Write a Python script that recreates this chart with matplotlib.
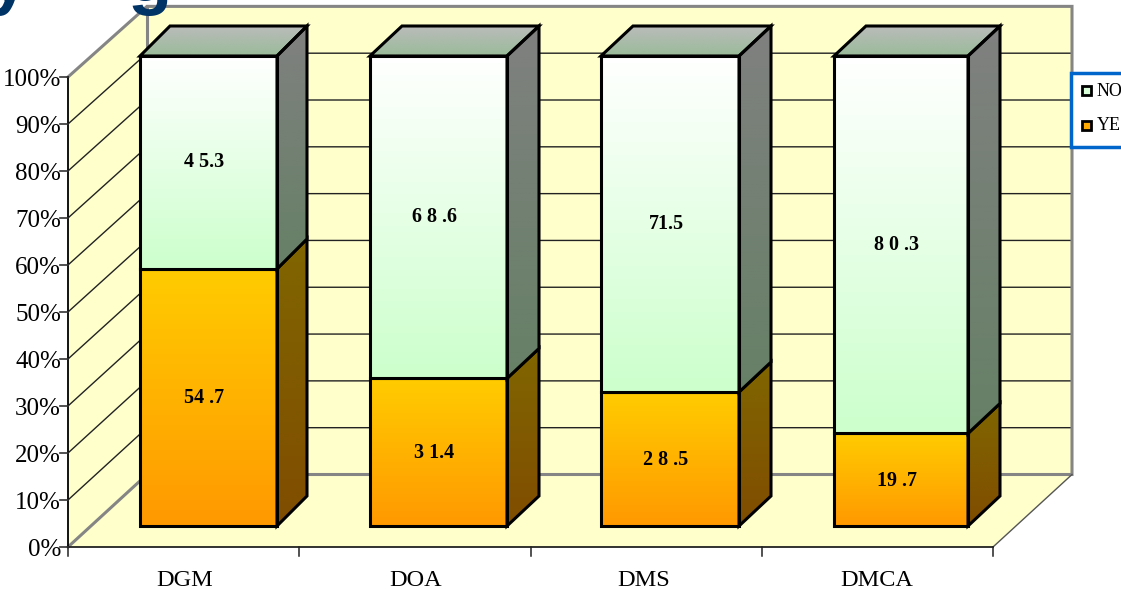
import matplotlib
matplotlib.use('Agg')
import numpy as np
import matplotlib.pyplot as plt
from matplotlib.patches import Polygon, Rectangle

categories = ['DGM', 'DOA', 'DMS', 'DMCA']
yes_values = [54.7, 31.4, 28.5, 19.7]
no_values = [45.3, 68.6, 71.5, 80.3]
yes_labels = ['54 .7', '3 1.4', '2 8 .5', '19 .7']
no_labels = ['4 5.3', '6 8 .6', '71.5', '8 0 .3']
pct_ticks = [0, 10, 20, 30, 40, 50, 60, 70, 80, 90, 100]

W, H = 1121, 590
# one x unit is a category, one y unit is a percentage point
X0, Y0 = 68, 547
XU, YU = 231.25, 4.7
DEPTH_X, DEPTH_Y = 79 / XU, 72.5 / YU
WALL_SCALE = 0.996
BAR_LIFT = 21 / YU
SIDE_Y = 30 / YU

plt.rcParams['font.family'] = ['Liberation Serif', 'DejaVu Serif']

# bar edges in pixels: left, right of the front face, right of the side face
bar_left_px = [140, 370, 601, 834]
bar_right_px = [277, 507, 739, 968]
bar_side_px = [307, 539, 771, 1000]
cat_center_px = [185, 416, 644, 877]

fig = plt.figure(figsize=(W / 100, H / 100), dpi=100)
ax = fig.add_axes([0, 0, 1, 1])
ax.set_xlim(-X0 / XU, (W - X0) / XU)
ax.set_ylim(-(H - Y0) / YU, Y0 / YU)
ax.axis('off')


def px_x(p):
    return (p - X0) / XU


def px_y(p):
    return (Y0 - p) / YU


def back(p):
    return DEPTH_Y + p * WALL_SCALE


def gradient_poly(points, top_color, bottom_color, z):
    # vertical gradient clipped to a polygon, then outlined in black
    points = np.array(points)
    c1 = np.array(matplotlib.colors.to_rgb(top_color))
    c2 = np.array(matplotlib.colors.to_rgb(bottom_color))
    t = np.linspace(0, 1, 128)[:, None, None]
    img = c1[None, None, :] * (1 - t) + c2[None, None, :] * t
    extent = [points[:, 0].min(), points[:, 0].max(), points[:, 1].min(), points[:, 1].max()]
    im = ax.imshow(img, extent=extent, origin='upper', aspect='auto', zorder=z, interpolation='bilinear')
    outline = Polygon(points, closed=True, fill=False, ec='black', lw=2.2, joinstyle='miter', zorder=z + 0.1)
    ax.add_patch(outline)
    im.set_clip_path(outline)


def draw_box(x, x2, x3, base, top, front, side, roof, z):
    dx = x3 - x2
    gradient_poly([(x, base), (x2, base), (x2, top), (x, top)], front[0], front[1], z)
    gradient_poly([(x2, base), (x3, base + SIDE_Y), (x3, top + SIDE_Y), (x2, top)], side[0], side[1], z)
    if roof:
        gradient_poly([(x, top), (x2, top), (x3, top + SIDE_Y), (x + dx, top + SIDE_Y)], roof[0], roof[1], z)


# walls and floor
n = len(categories)
wall = '#FFFFCC'
edge = '#858585'
ax.add_patch(Polygon([(0, 0), (DEPTH_X, back(0)), (DEPTH_X, back(100)), (0, 100)], fc=wall, ec='none', zorder=1))
ax.add_patch(Rectangle((DEPTH_X, back(0)), n, back(100) - back(0), fc=wall, ec='none', zorder=1))
ax.add_patch(Polygon([(0, 0), (n, 0), (n + DEPTH_X, back(0)), (DEPTH_X, back(0))], fc=wall, ec='none', zorder=1))

for p in pct_ticks[1:-1]:
    ax.plot([0, DEPTH_X, n + DEPTH_X], [p, back(p), back(p)], color='#222222', lw=1, zorder=2)

ax.plot([0, DEPTH_X, n + DEPTH_X, n + DEPTH_X, DEPTH_X, 0],
        [100, back(100), back(100), back(0), back(0), 0],
        color=edge, lw=2.2, zorder=2, solid_joinstyle='miter')
ax.plot([DEPTH_X, DEPTH_X], [back(0), back(100)], color=edge, lw=2.2, zorder=2)
ax.plot([n, n + DEPTH_X], [0, back(0)], color='#555555', lw=1, zorder=2)

# axes lines and ticks
ax.plot([0, 0], [0, 100], color='black', lw=1.3, zorder=3)
ax.plot([0, n], [0, 0], color='#222222', lw=1.3, zorder=3)
for p in pct_ticks:
    ax.plot([-8 / XU, 0], [p, p], color='#333333', lw=1.2, zorder=3)
    ax.text(-7 / XU, p - 0.6, f'{p}%', ha='right', va='center', fontsize=18, color='black', zorder=5)
for i in range(n + 1):
    ax.plot([i, i], [0, -9 / YU], color='#222222', lw=1.1, zorder=3)

# stacked bars
for i, cat in enumerate(categories):
    x, x2, x3 = px_x(bar_left_px[i]), px_x(bar_right_px[i]), px_x(bar_side_px[i])
    draw_box(x, x2, x3, BAR_LIFT, BAR_LIFT + yes_values[i], ('#FFCC00', '#FF9900'), ('#806600', '#804D00'), None, 4)
    draw_box(x, x2, x3, BAR_LIFT + yes_values[i], BAR_LIFT + 100, ('#FFFFFF', '#CCFFCC'), ('#808080', '#668066'),
             ('#BBBBBB', '#99BB99'), 4.5)
    cx = (x + x2) / 2
    ax.text(cx - 4 / XU, BAR_LIFT + yes_values[i] / 2 - 0.2, yes_labels[i], ha='center', va='center',
            fontsize=14.5, fontweight='bold', zorder=6)
    ax.text(cx - 4 / XU, BAR_LIFT + yes_values[i] + no_values[i] / 2, no_labels[i], ha='center', va='center',
            fontsize=14.5, fontweight='bold', zorder=6)
    ax.text(px_x(cat_center_px[i]), px_y(580.5), cat, ha='center', va='center', fontsize=17.5, zorder=5)

# legend box runs off the right edge
ax.add_patch(Rectangle((px_x(1071), px_y(147)), 70 / XU, 74 / YU, fc='white', ec='#0066CC', lw=2.5, zorder=7))
for name, col, py in [('NO', '#D9FFD9', 90), ('YES', '#FFAA00', 125)]:
    ax.add_patch(Rectangle((px_x(1082), px_y(py + 4.5)), 9 / XU, 9 / YU, fc=col, ec='black', lw=2, zorder=8))
    ax.text(px_x(1097), px_y(py + 1), name, ha='left', va='center', fontsize=13, zorder=8)

# heading above the chart, only its descenders fall inside the figure
for s, px in [('y', -12), ('g', 128)]:
    ax.text(px_x(px), px_y(1), s, ha='left', va='baseline', fontsize=52, fontweight='bold',
            family='Liberation Sans', color='#003366', zorder=9)

fig.savefig('out.png', dpi=100)
